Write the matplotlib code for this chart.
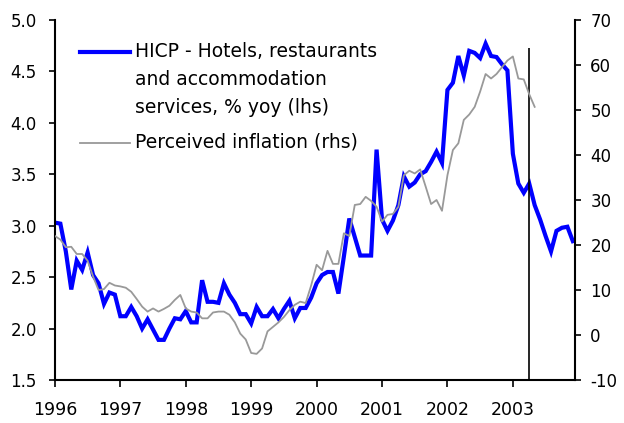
import matplotlib
matplotlib.use("Agg")
import matplotlib.pyplot as plt
import numpy as np

# monthly data, Jan 1996 - Dec 2003
hicp_hotels = [
    3.03, 3.02, 2.75, 2.38, 2.66, 2.57, 2.74, 2.52, 2.44, 2.24, 2.35, 2.33,  # 1996
    2.12, 2.12, 2.21, 2.12, 2.00, 2.09, 1.99, 1.89, 1.89, 2.00, 2.10, 2.09,  # 1997
    2.17, 2.06, 2.06, 2.47, 2.26, 2.26, 2.25, 2.44, 2.33, 2.25, 2.14, 2.14,  # 1998
    2.05, 2.21, 2.12, 2.12, 2.19, 2.10, 2.19, 2.27, 2.10, 2.20, 2.20, 2.30,  # 1999
    2.44, 2.52, 2.55, 2.55, 2.34, 2.70, 3.07, 2.89, 2.71, 2.71, 2.71, 3.74,  # 2000
    3.06, 2.95, 3.05, 3.20, 3.48, 3.38, 3.42, 3.50, 3.53, 3.62, 3.72, 3.61,  # 2001
    4.32, 4.39, 4.65, 4.46, 4.70, 4.68, 4.63, 4.77, 4.65, 4.64, 4.57, 4.51,  # 2002
    3.70, 3.41, 3.32, 3.41, 3.20, 3.06, 2.90, 2.75, 2.95, 2.98, 2.99, 2.85,  # 2003
]

# Jan 1996 - May 2003
perceived_inflation = [
    22.0, 21.2, 19.5, 19.6, 18.0, 18.0, 16.5, 13.0, 10.0, 10.2, 11.6, 11.0,  # 1996
    10.8, 10.5, 9.6, 8.0, 6.3, 5.2, 5.9, 5.2, 5.8, 6.5, 7.8, 8.9,  # 1997
    5.9, 5.2, 5.0, 3.7, 3.7, 5.0, 5.2, 5.2, 4.5, 2.8, 0.3, -1.0,  # 1998
    -4.0, -4.2, -3.0, 0.8, 1.8, 2.8, 4.0, 5.5, 6.7, 7.4, 7.1, 11.0,  # 1999
    15.6, 14.4, 18.7, 15.8, 15.8, 22.6, 22.0, 28.9, 29.1, 30.7, 29.8, 28.5,  # 2000
    25.2, 26.7, 26.9, 28.5, 35.5, 36.5, 35.9, 36.8, 33.0, 29.1, 30.0, 27.6,  # 2001
    35.5, 41.1, 42.6, 47.8, 49.0, 50.7, 54.1, 58.0, 57.0, 58.0, 59.5, 61.0,  # 2002
    61.9, 57.0, 56.8, 53.5, 50.7,  # 2003
]

year_ticks = [1996, 1997, 1998, 1999, 2000, 2001, 2002, 2003]
cutoff_date = 2003.25
cutoff_top = 4.73

hicp_label = "HICP - Hotels, restaurants\nand accommodation\nservices, % yoy (lhs)"
perc_label = "Perceived inflation (rhs)"

months_hicp = 1996 + np.arange(len(hicp_hotels)) / 12
months_perc = 1996 + np.arange(len(perceived_inflation)) / 12

plt.rcParams["font.family"] = "DejaVu Sans"
plt.rcParams["font.size"] = 12
plt.rcParams["axes.unicode_minus"] = False

fig = plt.figure(figsize=(6.24, 4.23), dpi=100)
ax = fig.add_axes([0.088, 0.1017, 0.8335, 0.851])
ax2 = ax.twinx()

ax.plot(months_hicp, hicp_hotels, color="#0000ff", lw=3.0, solid_joinstyle="miter")
ax.vlines(cutoff_date, 1.5, cutoff_top, color="black", lw=1.2, zorder=5)
ax2.plot(months_perc, perceived_inflation, color="#999999", lw=1.3)

ax.set_xlim(1996, 1996 + 95.4 / 12)
ax.set_ylim(1.5, 5.0)
ax.set_yticks(np.arange(1.5, 5.01, 0.5))
ax.set_yticklabels([f"{v:.1f}" for v in np.arange(1.5, 5.01, 0.5)])
ax2.set_ylim(-10, 70)
ax2.set_yticks(range(-10, 71, 10))
ax.set_xticks(year_ticks)
ax.set_xticklabels([str(y) for y in year_ticks], fontsize=12.5)

for a in (ax, ax2):
    a.spines["top"].set_visible(False)
    for s in a.spines.values():
        s.set_linewidth(1.5)
ax.spines["right"].set_visible(False)
ax2.spines["left"].set_visible(False)
ax2.spines["bottom"].set_visible(False)

ax.tick_params(axis="y", direction="out", length=4, width=1.2, pad=9)
ax.tick_params(axis="x", direction="out", length=5, width=1.2, pad=10)
ax2.tick_params(axis="y", direction="out", length=4, width=1.2, pad=7)

# legend, drawn by hand so the key sits on the first text line
tr = ax.transAxes
ax.plot([0.048, 0.144], [0.911, 0.911], color="#0000ff", lw=3.0, transform=tr, clip_on=False)
ax.text(0.154, 0.94, hicp_label, transform=tr, va="top", ha="left",
        fontsize=13.5, linespacing=1.6)
ax.plot([0.048, 0.144], [0.657, 0.657], color="#999999", lw=1.3, transform=tr, clip_on=False)
ax.text(0.154, 0.661, perc_label, transform=tr, va="center", ha="left", fontsize=13.5)

fig.savefig("out.png", dpi=100)
